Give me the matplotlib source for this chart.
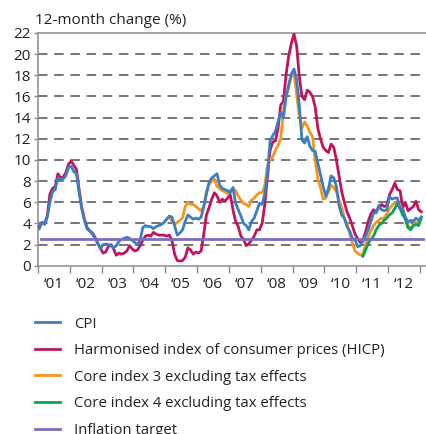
import matplotlib
matplotlib.use('Agg')
import matplotlib.pyplot as plt
import numpy as np

plt.rcParams['font.family'] = ['Open Sans', 'DejaVu Sans']

# monthly 12-month change (%), Jan 2001 - Jan 2013
cpi = [3.5, 4.1, 3.9, 4.6, 6.0, 7.0, 7.2, 8.3, 8.2, 8.2, 8.5, 9.3,
       9.4, 8.9, 8.7, 6.9, 5.4, 4.3, 3.5, 3.3, 3.0, 2.6, 2.2, 1.6,
       2.0, 2.05, 2.0, 1.9, 1.7, 1.9, 2.3, 2.5, 2.6, 2.7, 2.6, 2.4,
       2.2, 2.0, 2.4, 3.6, 3.8, 3.7, 3.7, 3.5, 3.7, 3.8, 3.9, 4.1,
       4.4, 4.7, 4.6, 3.8, 2.9, 3.1, 3.4, 4.2, 4.8, 4.6, 4.4, 4.5,
       4.4, 4.6, 5.6, 6.8, 7.9, 8.3, 8.5, 8.7, 7.6, 7.3, 7.2, 7.1,
       6.9, 7.4, 5.9, 5.3, 4.7, 4.0, 3.8, 3.4, 4.2, 4.5, 5.2, 5.9,
       5.8, 6.8, 8.7, 11.8, 12.3, 12.7, 13.6, 14.5, 14.0, 15.9, 17.1, 18.1,
       18.6, 17.6, 15.2, 11.9, 11.6, 12.2, 11.3, 10.9, 10.8, 9.7, 8.6, 7.5,
       6.6, 7.3, 8.5, 8.3, 7.5, 5.7, 4.8, 4.5, 3.7, 3.3, 2.6, 2.5,
       1.8, 1.9, 2.3, 2.8, 3.4, 4.2, 5.0, 5.0, 5.7, 5.3, 5.2, 5.3,
       6.5, 6.3, 6.4, 6.4, 5.4, 5.4, 4.6, 4.1, 4.3, 4.2, 4.5, 4.3,
       4.6]

hicp = [3.7, 4.1, 4.0, 4.7, 6.8, 7.3, 7.5, 8.7, 8.3, 8.4, 8.8, 9.6,
        9.9, 9.5, 9.1, 7.2, 5.5, 4.4, 3.6, 3.3, 3.1, 2.7, 2.1, 1.7,
        1.2, 1.3, 1.8, 2.0, 1.6, 1.0, 1.2, 1.1, 1.2, 1.4, 1.9, 1.6,
        1.4, 1.5, 1.9, 2.4, 2.8, 2.9, 2.8, 3.15, 3.0, 2.9, 2.9, 2.9,
        2.8, 2.9, 2.4, 1.1, 0.5, 0.45, 0.5, 0.8, 1.7, 1.5, 1.1, 1.3,
        1.2, 1.4, 3.0, 4.8, 5.5, 6.3, 6.9, 6.6, 6.0, 6.3, 6.1, 6.4,
        6.7, 5.3, 4.2, 3.7, 2.8, 2.5, 1.9, 2.1, 2.4, 2.8, 3.4, 3.4,
        4.0, 5.8, 8.4, 10.9, 11.7, 11.8, 13.0, 15.2, 15.5, 18.0, 19.8, 21.0,
        21.9, 20.8, 17.9, 16.0, 15.7, 16.6, 16.4, 16.0, 15.0, 13.0, 12.0, 11.2,
        10.9, 10.7, 11.5, 11.2, 10.0, 8.5, 7.0, 6.0, 5.1, 4.5, 3.8, 3.0,
        2.6, 2.2, 2.4, 3.2, 4.2, 4.9, 5.3, 5.1, 5.5, 5.8, 5.6, 5.7,
        6.7, 7.2, 7.8, 7.2, 7.1, 5.5, 6.0, 5.2, 5.4, 5.6, 6.1, 5.3,
        5.1]

# core index 3 excluding tax effects, Feb 2005 - Jan 2013
core3_start = 49
core3 = [4.6, 4.2, 3.9, 4.1, 4.3, 4.5, 5.6, 6.0, 5.8, 5.8, 5.6,
         5.4, 5.2, 5.6, 7.0, 7.7, 8.0, 8.2, 7.5, 7.3, 7.1, 7.0, 6.8,
         7.1, 7.3, 7.1, 6.6, 6.2, 5.9, 5.8, 5.6, 6.2, 6.4, 6.7, 6.9,
         6.9, 7.6, 9.4, 10.0, 10.3, 10.9, 11.4, 12.0, 14.5, 16.0, 16.8, 17.9,
         18.3, 16.2, 14.2, 13.0, 13.6, 13.2, 12.6, 12.2, 10.0, 8.2, 7.4, 6.3,
         6.4, 7.0, 7.6, 7.4, 7.0, 6.2, 5.5, 4.5, 4.0, 3.0, 2.2, 1.4,
         1.2, 1.0, 1.1, 2.0, 2.7, 3.3, 3.8, 4.1, 4.3, 4.5, 4.5, 4.9,
         5.4, 5.7, 6.0, 5.7, 5.7, 5.3, 4.4, 3.8, 3.5, 3.9, 4.1, 4.0,
         4.4]

# core index 4 excluding tax effects, Mar 2011 - Jan 2013
core4_start = 122
core4 = [0.9, 1.5, 2.1, 2.5, 2.8, 3.4, 3.8, 4.0, 4.3, 4.5,
         4.8, 5.0, 5.4, 5.9, 5.4, 4.8, 4.4, 3.6, 3.4, 3.8, 3.9, 3.8,
         4.6]

target_value = 2.5
target_months = (1, 145)

year_ticks = list(range(2001, 2014))
year_labels = ['\u2018%02d' % (y % 100) for y in range(2001, 2013)]


def month_x(start, n):
    return 2001 + (start + np.arange(n) + 0.5) / 12.0


fig = plt.figure(figsize=(4.26, 4.34), dpi=100)
ax = fig.add_axes([0.0892, 0.3876, 0.9108, 0.5364])

grey = '#8c8c8c'
c_cpi = '#3b7fc2'
c_hicp = '#c0145e'
c_core3 = '#f7941d'
c_core4 = '#0aa34f'
c_target = '#7b6fbb'
lw = 2.0
fs = 11

ax.plot(month_x(0, len(hicp)), hicp, color=c_hicp, lw=lw, zorder=3,
        label='Harmonised index of consumer prices (HICP)')
ax.plot(month_x(core3_start, len(core3)), core3, color=c_core3, lw=lw, zorder=4,
        label='Core index 3 excluding tax effects')
ax.plot(month_x(core4_start, len(core4)), core4, color=c_core4, lw=lw, zorder=5,
        label='Core index 4 excluding tax effects')
ax.plot(month_x(0, len(cpi)), cpi, color=c_cpi, lw=lw, zorder=6, label='CPI')
tx = 2001 + np.array(target_months) / 12.0
ax.plot(tx, [target_value, target_value], color=c_target, lw=lw, zorder=7,
        label='Inflation target')

ax.set_xlim(2001, 2013.19)
ax.set_ylim(0, 22)
ax.set_yticks(range(0, 23, 2))
ax.tick_params(axis='y', length=3, width=1, color=grey, pad=2,
               labelsize=fs, labelcolor='#222222')

ax.set_xticks(year_ticks)
ax.set_xticklabels([])
ax.set_xticks([y + 0.5 for y in range(2001, 2013)], minor=True)
ax.set_xticklabels(year_labels, minor=True)
ax.tick_params(axis='x', which='major', length=5, width=1, color=grey)
ax.tick_params(axis='x', which='minor', length=0, pad=8,
               labelsize=fs, labelcolor='#222222')

for v in range(2, 22, 2):
    ax.axhline(v, color='#505050', lw=1.1, ls=(0, (6.2, 4.4)), zorder=1)

for s in ['left', 'bottom', 'top']:
    ax.spines[s].set_color(grey)
    ax.spines[s].set_linewidth(1.1)
ax.spines['right'].set_visible(False)

fig.text(35 / 426, 1 - 21 / 434, '12-month change (%)', fontsize=fs,
         color='#222222', va='center', ha='left')

h, l = ax.get_legend_handles_labels()
order = [3, 0, 1, 2, 4]
fig.legend([h[i] for i in order], [l[i] for i in order], loc='upper left',
           bbox_to_anchor=(35 / 426, 1 - 316.5 / 434), frameon=False,
           borderpad=0, borderaxespad=0, handlelength=1.65,
           handletextpad=1.0, labelspacing=0.78, fontsize=10.7,
           labelcolor='#222222')

fig.savefig('out.png', dpi=100)
